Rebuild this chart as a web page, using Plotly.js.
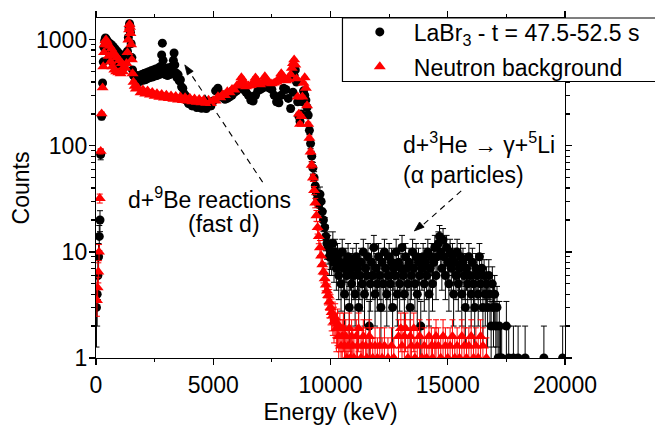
<!DOCTYPE html>
<html><head><meta charset="utf-8">
<script src="https://cdn.plot.ly/plotly-3.0.1.min.js"></script>
<style>html,body{margin:0;padding:0;background:#fff;}#chart{width:655px;height:436px;}</style>
</head><body><div id="chart"></div>
<script>
// LaBr3 spectrum, t = 47.5-52.5 s (energy in keV, counts)
const labrEnergy = [
 20,50,80,110,140,170,200,240,280,310,340,370,400,430,460,
 500,540,580,620,660,700,740,780,820,860,900,950,1000,1050,1100,1150,1200,1250,1300,
 1340,1380,1410,1430,1450,1470,1500,1530,1560,1600,
 1650,1700,1750,1800,1850,1900,1950,2000,2050,2100,2150,2200,2250,2300,2350,2400,2450,2500,2550,2600,2650,2700,2750,2800,
 2830,2860,2900,2950,3000,3050,3100,3150,3200,3250,3300,3330,3360,
 3400,3450,3500,3550,3600,3650,3700,3750,3800,3850,3900,3950,
 4000,4100,4200,4300,4400,4500,4600,4700,4800,4900,
 5000,5100,5200,5300,5400,5500,5600,5700,5800,5900,
 6000,6100,6200,6300,6400,6500,6600,6700,6800,6900,
 7000,7100,7200,7300,7400,7500,7600,7700,7800,7900,
 8000,8100,8200,8300,8400,8450,8500,8550,8600,8650,8700,8750,8800,8850,8900,8950,9000,
 9050,9100,9150,9200,9250,9300,9350,9400,9450,9500,9550,9600,9650,9700,9750,9800,9850,9900,9950,
 10000,10050,10100,10150,10200,10250,10300,10350,10400,10450,
 10500,10550,10600,10650,10700,10750,10800,10850,10900,10950,
 11000,11050,11100,11150,11200,11250,11300,11350,11400,11450,
 11500,11550,11600,11650,11700,11750,11800,11850,11900,11950,
 12000,12050,12100,12150,12200,12250,12300,12350,12400,12450,
 12500,12550,12600,12650,12700,12750,12800,12850,12900,12950,
 13000,13050,13100,13150,13200,13250,13300,13350,13400,13450,
 13500,13550,13600,13650,13700,13750,13800,13850,13900,13950,
 14000,14050,14100,14150,14200,14250,14300,14350,14400,14450,
 14500,14550,14600,14650,14700,14750,14800,14850,14900,14950,
 15000,15050,15100,15150,15200,15250,15300,15350,15400,15450,
 15500,15550,15600,15650,15700,15750,15800,15850,15900,15950,
 16000,16050,16100,16150,16200,16250,16300,16350,16400,16450,
 16500,16550,16600,16650,16700,16750,16800,16850,16900,16950,
 17000,17050,17100,17150,17200,17250,17300,
 17500,17600,17800,18000,18300,19100,19900
];
const labrCounts = [
 3,4,6,9,14,20,83,190,392,620,850,980,1040,1020,990,
 960,760,930,680,900,620,860,580,820,560,780,540,740,520,700,540,660,600,650,
 780,1050,1300,1420,1350,1180,920,680,520,460,
 450,400,460,395,455,410,470,415,480,420,490,430,500,440,510,445,520,455,530,460,540,470,560,720,
 930,640,530,470,540,460,545,470,550,480,640,750,580,
 490,440,470,410,420,360,350,310,300,270,265,250,
 255,238,248,230,242,226,240,225,240,238,
 265,330,350,310,285,275,280,290,300,320,
 330,350,380,340,320,300,270,265,300,330,
 340,350,380,360,350,340,300,260,255,300,
 350,340,280,225,320,460,520,400,260,190,170,200,260,330,300,270,230,
 195,140,105,80,62,50,42,36,32,28,35,30,24,20,17,14,12,11,9,
 10,9,12,8,10,7,9,6,8,5,
 10,7,4,8,6,9,3,7,5,8,
 6,4,9,7,3,6,8,5,10,4,
 7,6,9,2,5,8,6,11,4,7,
 5,9,6,3,8,5,10,7,4,6,
 9,5,8,3,7,6,10,4,8,5,
 7,11,6,4,9,7,5,8,3,6,
 10,7,5,9,4,8,6,2,7,9,
 5,8,6,10,4,7,9,5,8,11,
 6,9,12,14,10,7,13,9,6,11,
 8,5,10,7,9,4,8,6,10,5,
 7,9,4,8,6,3,7,5,9,6,
 4,8,5,3,7,6,4,9,5,7,
 3,6,4,5,3,6,4,2,5,3,
 4,2,3,1,2,1,1,
 2,1,1,1,1,1,1
];
// Neutron background (energy in keV, normalised counts)
const bkgEnergy = [
 40,70,100,130,160,200,240,280,310,340,370,400,430,460,
 500,540,580,620,660,700,740,780,820,860,900,950,1000,1050,1100,1150,1200,1250,1300,
 1340,1380,1410,1430,1450,1470,1500,1530,1560,1600,1650,1700,
 1800,1900,2000,2100,2200,2300,2400,2500,2600,2700,
 2800,2900,3000,3100,3200,3300,3400,3500,3600,3700,
 3800,3900,4000,4100,4200,4300,4400,4500,4600,4700,
 4800,4900,5000,5100,5200,5300,5400,5500,5600,5700,
 5800,5900,6000,6100,
 6200,6250,6300,6400,6500,6600,6700,6800,6850,6900,
 7000,7100,7200,7250,7300,7400,7500,7600,7700,7800,
 7900,7950,8000,8100,8200,8300,8350,8400,8450,8500,
 8550,8600,8650,8700,8750,8800,8850,8900,8950,9000,
 9050,9100,9150,9200,9250,9300,9350,9400,9450,9500,9550,9600,9650,9700,9750,9800,9850,9900,9950,
 10000,10050,10100,10150,10200,10250,10300,10350,10400,10450,
 10500,10550,10600,10650,10700,10750,10800,10850,10900,10950,
 11000,11100,11150,11200,11300,11350,11400,11500,11550,11650,
 11700,11800,11900,12000,12100,12200,12300,12450,12600,12700,
 12900,13000,13050,13150,13200,13300,13400,13450,13550,13600,
 13700,13800,13900,14000,14100,14200,14300,14350,14450,14500,
 14600,14700,14800,14900,15000,15100,15200,15300,15400,15500,
 15600,15700,15800,15900,16000,16100,16200,16300,16400,16500,
 16650
];
const bkgCounts = [
 3.5,4.6,6.5,10,32,89,201,354,560,760,900,980,1000,960,
 900,700,870,620,820,560,760,520,720,500,680,490,640,480,600,500,560,540,600,
 760,1000,1250,1400,1320,1150,900,650,480,400,365,345,
 350,318,338,310,330,302,320,295,312,288,
 306,284,302,280,297,276,293,272,290,268,
 286,265,282,262,278,258,275,255,272,253,
 270,252,268,265,292,285,305,300,325,318,
 342,338,368,385,
 440,420,380,362,368,372,392,438,420,382,
 378,392,450,430,400,392,386,392,402,432,
 480,460,420,412,422,470,540,600,650,580,
 430,290,200,160,190,290,390,440,350,240,
 160,118,88,66,50,38,29,22,17,14,11,9.2,7.6,6.5,5.6,4.9,4.3,3.9,3.4,
 3.0,2.7,2.5,2.2,2.4,1.9,2.1,1.6,1.9,1.3,
 1.6,1.9,1.3,1.6,1.0,1.3,1.9,1.0,1.6,1.3,
 1.0,1.6,1.3,1.9,1.0,1.3,1.6,1.3,1.0,1.6,
 1.3,1.0,1.3,1.0,1.3,1.0,1.3,1.0,1.3,1.0,
 1.6,1.9,1.3,1.6,1.9,1.0,1.6,1.3,1.9,1.0,
 1.3,1.6,1.0,1.3,1.0,1.6,1.3,1.0,1.3,1.6,
 1.3,1.0,1.6,1.3,1.0,1.3,1.6,1.0,1.3,1.0,
 1.6,1.3,1.0,1.3,1.6,1.0,1.3,1.0,1.6,1.3,
 1.0
];
// background was normalised by this factor; its Poisson errors scale with it
const bkgNorm = 0.3;

const xTickVals = [0, 5000, 10000, 15000, 20000];
const xTickText = ['0', '5000', '10000', '15000', '20000'];
const xMinorVals = [2500, 7500, 12500, 17500];
const yTickVals = [1, 10, 100, 1000];
const yTickText = ['1', '10', '100', '1000'];
const yMinorVals = [2,3,4,5,6,7,8,9,20,30,40,50,60,70,80,90,200,300,400,500,600,700,800,900];

const labrName = 'LaBr<sub>3</sub> - t = 47.5-52.5 s';
const bkgName = 'Neutron background';

const bkgErr = bkgCounts.map(v => Math.sqrt(bkgNorm * v));

const FONT = 'Liberation Sans, Arial, Helvetica, sans-serif';
const FS = 23;

const traces = [
  {
    x: labrEnergy, y: labrCounts, type: 'scatter', mode: 'markers', name: labrName,
    legend: 'legend',
    marker: {symbol: 'circle', size: 9, color: '#000'},
    error_y: {type: 'sqrt', visible: true, color: '#000', thickness: 1, width: 3}
  },
  {
    x: bkgEnergy, y: bkgCounts, type: 'scatter', mode: 'markers', name: bkgName,
    legend: 'legend2',
    marker: {symbol: 'triangle-up', size: 10.5, color: '#ff0000'},
    error_y: {type: 'data', array: bkgErr, visible: true, color: '#ff0000', thickness: 1, width: 3}
  }
];

const axisCommon = {
  showline: true, linecolor: '#000', linewidth: 1.2, mirror: 'allticks',
  ticks: 'outside', ticklen: 6, tickwidth: 1.2, tickcolor: '#000',
  showgrid: false, zeroline: false,
  tickfont: {family: FONT, size: FS, color: '#000'}
};

const legendCommon = {
  xanchor: 'left', yanchor: 'middle',
  bgcolor: 'rgba(0,0,0,0)', borderwidth: 0, itemwidth: 58,
  font: {family: FONT, size: FS, color: '#000'}
};

const layout = {
  width: 655, height: 436,
  margin: {l: 96, r: 89, t: 10, b: 78, pad: 0},
  paper_bgcolor: '#fff', plot_bgcolor: '#fff',
  font: {family: FONT, size: FS, color: '#000'},
  showlegend: true,
  xaxis: Object.assign({}, axisCommon, {
    range: [0, 20000], tickmode: 'array', tickvals: xTickVals, ticktext: xTickText,
    minor: {tickmode: 'array', tickvals: xMinorVals, ticks: 'outside', ticklen: 3, tickwidth: 1.2, tickcolor: '#000', showgrid: false},
    title: {text: 'Energy (keV)', standoff: 7, font: {family: FONT, size: FS, color: '#000'}}
  }),
  yaxis: Object.assign({}, axisCommon, {
    type: 'log', range: [0, 3.2055], tickmode: 'array', tickvals: yTickVals, ticktext: yTickText,
    ticklabelstandoff: -3,
    minor: {tickmode: 'array', tickvals: yMinorVals, ticks: 'outside', ticklen: 4, tickwidth: 1.2, tickcolor: '#000', showgrid: false},
    title: {text: 'Counts', standoff: 0, font: {family: FONT, size: FS, color: '#000'}}
  }),
  legend: Object.assign({}, legendCommon, {x: 0.5326, y: 0.959}),
  legend2: Object.assign({}, legendCommon, {x: 0.5326, y: 0.857}),
  shapes: [
    {type: 'rect', xref: 'paper', yref: 'paper', x0: 0.5255, x1: 1.3, y0: 0.8132, y1: 1.0,
     line: {color: '#000', width: 1.2}, fillcolor: '#fff', layer: 'above'},
    {type: 'line', xref: 'paper', yref: 'paper', x0: 0.3553, y0: 0.5172, x1: 0.1990, y1: 0.8420,
     line: {color: '#000', width: 1.1, dash: '6px,5px'}},
    {type: 'path', xref: 'paper', yref: 'paper', path: 'M0.18936,0.86207 L0.20723,0.84339 L0.19468,0.83247 Z',
     line: {color: '#000', width: 0.8}, fillcolor: '#000'},
    {type: 'line', xref: 'paper', yref: 'paper', x0: 0.7787, y0: 0.4914, x1: 0.6950, y1: 0.3890,
     line: {color: '#000', width: 1.1, dash: '6px,5px'}},
    {type: 'path', xref: 'paper', yref: 'paper', path: 'M0.67872,0.37356 L0.69964,0.38486 L0.68985,0.40003 Z',
     line: {color: '#000', width: 0.8}, fillcolor: '#000'}
  ],
  annotations: [
    {xref: 'paper', yref: 'paper', x: 0.2426, y: 0.4712, xanchor: 'center', yanchor: 'middle',
     text: 'd+<sup>9</sup>Be reactions', showarrow: false, font: {family: FONT, size: FS, color: '#000'}},
    {xref: 'paper', yref: 'paper', x: 0.2738, y: 0.3936, xanchor: 'center', yanchor: 'middle',
     text: '(fast d)', showarrow: false, font: {family: FONT, size: FS, color: '#000'}},
    {xref: 'paper', yref: 'paper', x: 0.6511, y: 0.6320, xanchor: 'left', yanchor: 'middle',
     text: 'd+<sup>3</sup>He → γ+<sup>5</sup>Li', showarrow: false, font: {family: FONT, size: FS, color: '#000'}},
    {xref: 'paper', yref: 'paper', x: 0.6511, y: 0.5370, xanchor: 'left', yanchor: 'middle',
     text: '(α particles)', showarrow: false, font: {family: FONT, size: FS, color: '#000'}}
  ]
};

Plotly.newPlot('chart', traces, layout, {staticPlot: true, displayModeBar: false});
</script>
</body></html>
